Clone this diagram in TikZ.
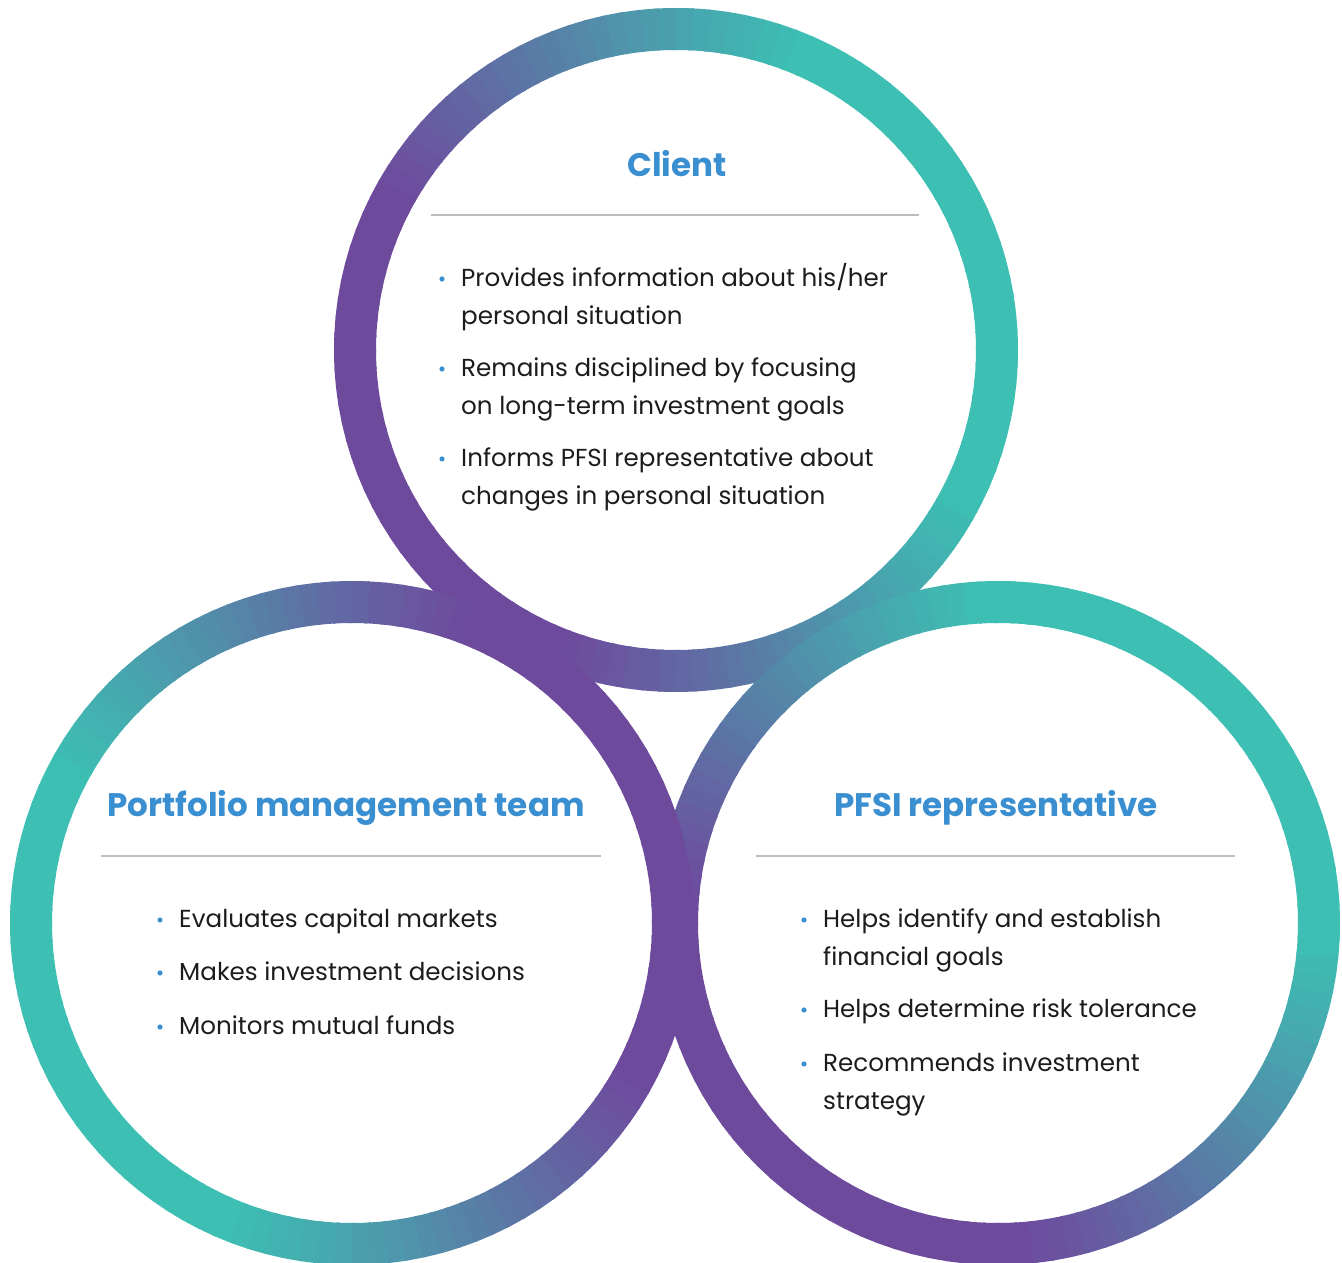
\documentclass[tikz,border=0pt]{standalone}
\usepackage{fontspec}
\setmainfont{Poppins}
\definecolor{ringpurple}{HTML}{6E4A9D}
\definecolor{ringteal}{HTML}{3DBFB3}
\definecolor{headblue}{HTML}{3A8FD1}
\definecolor{inkblack}{HTML}{1C1C1C}
\definecolor{rulegray}{HTML}{BDBDBD}

\newcommand\gradring[2]{%
  \foreach \a in {0,3,...,357}{
    \pgfmathtruncatemacro\mix{max(0,min(100,50-75*cos(\a+1.5-#2)))}
    \draw[ring,draw=ringteal!\mix!ringpurple]
      ([shift={(\a:321)}]#1) arc[start angle=\a,end angle=\a+3.6,radius=321];
  }}
\newcommand\bulletitem[3]{%
  \node[item] (#1) at (#2) {\begin{tabular}[t]{@{}l@{}}#3\end{tabular}};
  \fill[headblue] ([shift={(-19,8)}]#1.base west) circle (2.6);}

\begin{document}
\begin{tikzpicture}[x=1pt,y=1pt,
    ring/.style={line width=42pt},
    head/.style={font=\fontsize{32.6}{40}\selectfont\bfseries, text=headblue,
                 anchor=base, inner sep=0},
    item/.style={font=\fontsize{24.6}{37.5}\selectfont, text=inkblack,
                 anchor=base west, inner sep=0},
    rule/.style={rulegray, line width=1.5pt},
    ]
    \useasboundingbox (0,0) rectangle (1342,1262);
    \coordinate (client) at (676,912);
    \coordinate (team) at (352,339);
    \coordinate (rep) at (998,339);

    % rings
    \gradring{client}{200}
    \gradring{rep}{225}
    \gradring{team}{20}

    % Client
    \node[head] (clientHead) at (677,1085) {Client};
    \draw[rule] (431,1047) -- (919,1047);
    \bulletitem{c1}{461,975}{Provides information about his/her\\personal situation}
    \bulletitem{c2}{461,885}{Remains disciplined by focusing\\on long-term investment goals}
    \bulletitem{c3}{461,795}{Informs PFSI representative about\\changes in personal situation}

    % Portfolio management team
    \node[head] (teamHead) at (346,445) {Portfolio management team};
    \draw[rule] (101,406) -- (601,406);
    \bulletitem{t1}{179,334}{Evaluates capital markets}
    \bulletitem{t2}{179,281}{Makes investment decisions}
    \bulletitem{t3}{179,227}{Monitors mutual funds}

    % PFSI representative
    \node[head] (repHead) at (996,445) {PFSI representative};
    \draw[rule] (756,406) -- (1235,406);
    \bulletitem{r1}{823,334}{Helps identify and establish\\financial goals}
    \bulletitem{r2}{823,244}{Helps determine risk tolerance}
    \bulletitem{r3}{823,190}{Recommends investment\\strategy}
\end{tikzpicture}
\end{document}
